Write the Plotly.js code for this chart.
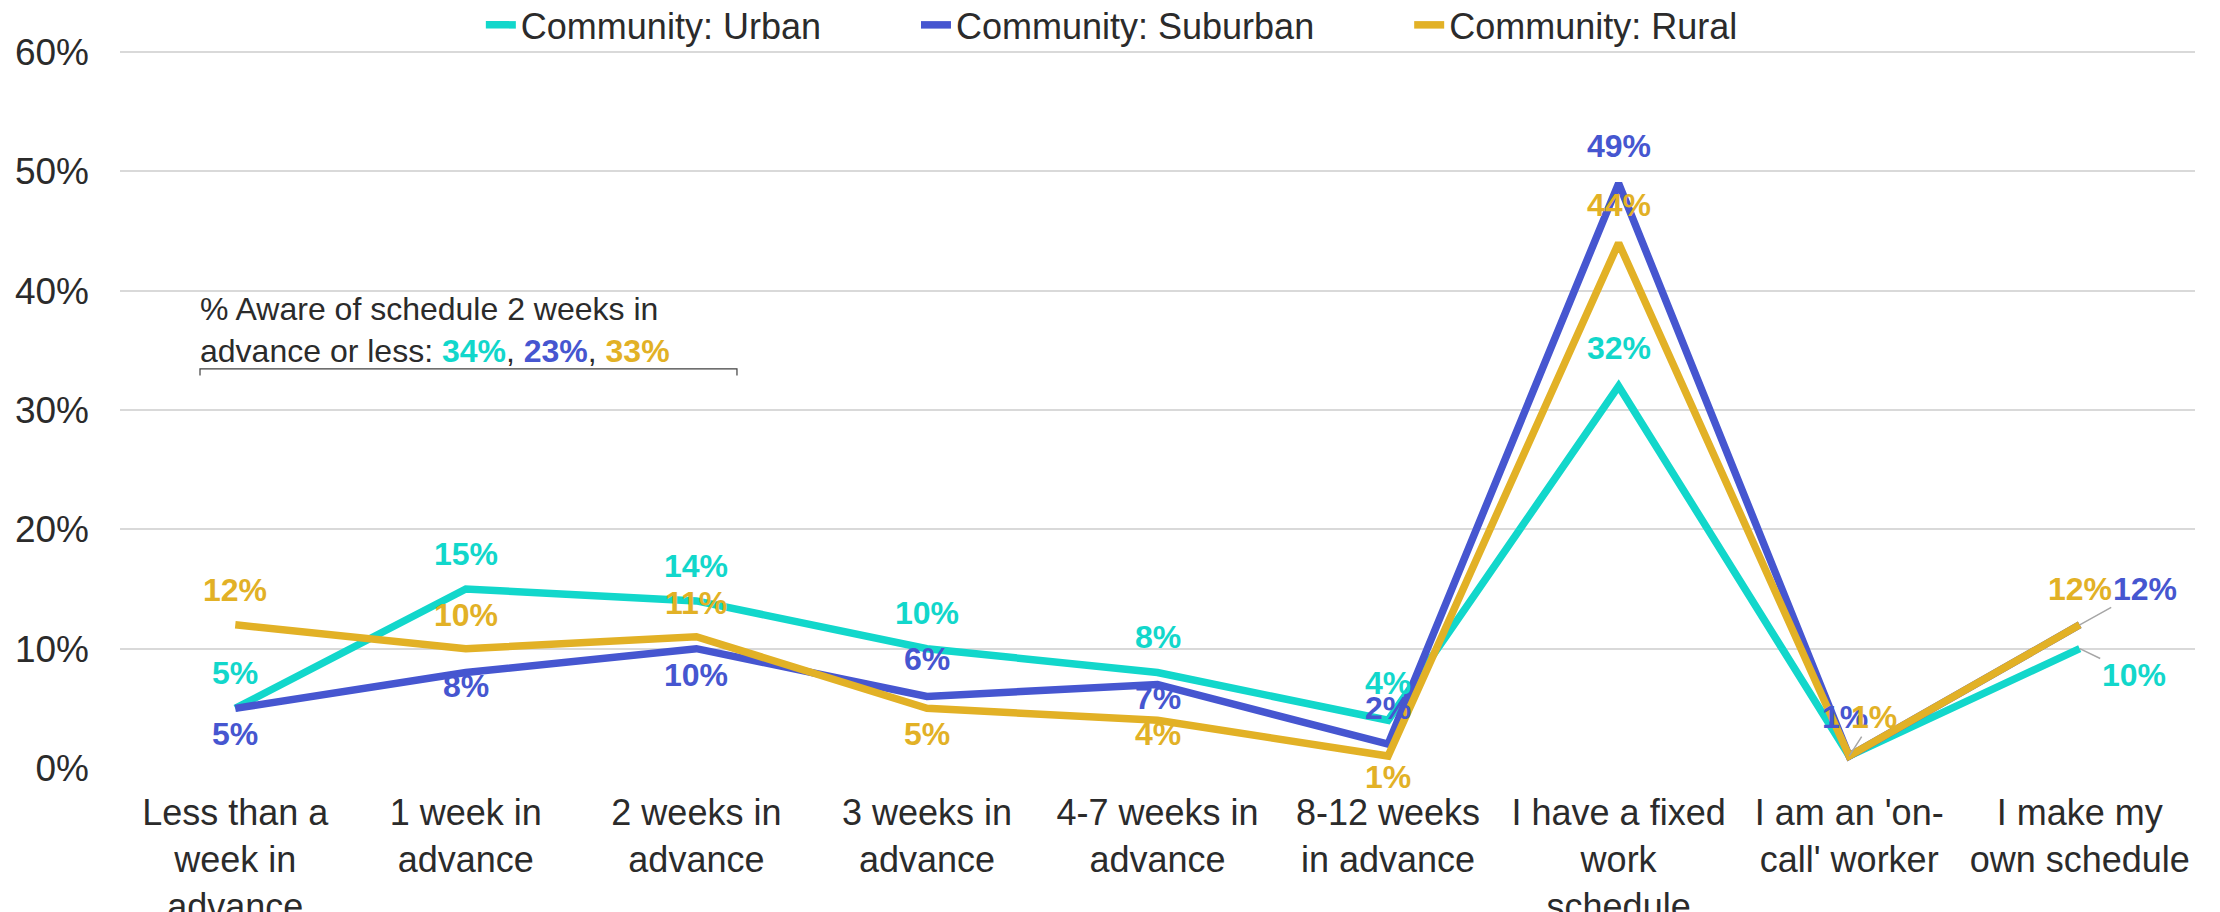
<!DOCTYPE html>
<html>
<head>
<meta charset="utf-8">
<script src="https://cdn.plot.ly/plotly-3.0.1.min.js"></script>
<style>
  html, body { margin: 0; padding: 0; background: #ffffff; }
  #chart { width: 2220px; height: 912px; }
</style>
</head>
<body>
<div id="chart"></div>
<script>
// ---- Data ----
const categories = [
  "Less than a week in advance",
  "1 week in advance",
  "2 weeks in advance",
  "3 weeks in advance",
  "4-7 weeks in advance",
  "8-12 weeks in advance",
  "I have a fixed work schedule",
  "I am an 'on-call' worker",
  "I make my own schedule"
];
const tickLabels = [
  "Less than a<br>week in<br>advance",
  "1 week in<br>advance",
  "2 weeks in<br>advance",
  "3 weeks in<br>advance",
  "4-7 weeks in<br>advance",
  "8-12 weeks<br>in advance",
  "I have a fixed<br>work<br>schedule",
  "I am an 'on-<br>call' worker",
  "I make my<br>own schedule"
];
const seriesNames = ["Community: Urban", "Community: Suburban", "Community: Rural"];
const urban    = [0.05, 0.15, 0.14, 0.10, 0.08, 0.04, 0.32, 0.01, 0.10];
const suburban = [0.05, 0.08, 0.10, 0.06, 0.07, 0.02, 0.49, 0.01, 0.12];
const rural    = [0.12, 0.10, 0.11, 0.05, 0.04, 0.01, 0.44, 0.01, 0.12];
const yTicks = [0, 0.1, 0.2, 0.3, 0.4, 0.5, 0.6];
const awareTwoWeeksOrLess = ["34%", "23%", "33%"];
const awareText = "% Aware of schedule 2 weeks in<br>advance or less: ";

// ---- Styles ----
const colors = ["#12D7CB", "#4656D0", "#E2B126"];
const FONT = "Liberation Sans, Arial, sans-serif";
const TEXT = "#2b2b2b";
const legendPad = "\u00A0".repeat(9);

// label offsets per series per point: [dx, dy(up positive)], null = hidden, third item = leader line
const labelOffsets = [
  [[0,35],[0,35],[0,35],[0,36],[0,36],[0,37],[0,38],null,[54,-26,true]],
  [[0,-26],[0,-13],[0,-26],[0,37],[0,-14],[0,36],[0,37],[-4,39],[65,36,true]],
  [[0,35],[0,34],[0,34],[0,-26],[0,-14],[0,-21],[0,38],[25,39,true],[0,36]]
];

const allSeries = [urban, suburban, rural];

const traces = allSeries.map((vals, s) => ({
  type: "scatter",
  mode: "lines",
  x: categories,
  y: vals,
  name: seriesNames[s] + (s < allSeries.length - 1 ? legendPad : ""),
  line: { color: colors[s], width: 7.5 },
  hovertemplate: "%{x}: %{y:.0%}<extra>" + seriesNames[s] + "</extra>"
}));

const annotations = [];
allSeries.forEach((vals, s) => {
  vals.forEach((v, i) => {
    const off = labelOffsets[s][i];
    if (!off) return;
    const txt = Math.round(v * 100) + "%";
    const base = {
      x: categories[i], y: v, xref: "x", yref: "y",
      text: "<b>" + txt + "</b>",
      font: { family: FONT, size: 32, color: colors[s] }
    };
    if (off[2]) {
      annotations.push(Object.assign(base, {
        showarrow: true, arrowhead: 0, arrowwidth: 1.5, arrowcolor: "#a6a6a6",
        ax: off[0], ay: -off[1], standoff: 0, xanchor: "center", yanchor: "middle"
      }));
    } else {
      annotations.push(Object.assign(base, {
        showarrow: false, xshift: off[0], yshift: off[1],
        xanchor: "center", yanchor: "middle"
      }));
    }
  });
});

// bracket note
const noteValues = awareTwoWeeksOrLess.map((t, s) =>
  '<span style="color:' + colors[s] + '"><b>' + t + '</b></span>').join(", ");
annotations.push({
  x: -0.16, y: 0.367, xref: "x", yref: "y",
  xanchor: "left", yanchor: "middle", align: "left",
  showarrow: false,
  text: awareText + noteValues,
  font: { family: FONT, size: 32, color: TEXT }
});

const shapes = [{
  type: "path", xref: "x", yref: "y",
  path: "M -0.153 0.329 L -0.153 0.3345 L 2.176 0.3345 L 2.176 0.329",
  line: { color: "#404040", width: 1.2 }
}];

const layout = {
  width: 2220, height: 912,
  margin: { l: 120, r: 25, t: 48, b: 144, autoexpand: false },
  paper_bgcolor: "#ffffff", plot_bgcolor: "#ffffff",
  font: { family: FONT, color: TEXT, size: 36 },
  showlegend: true,
  legend: {
    orientation: "h", x: 0.478, xanchor: "center", y: 1.032, yanchor: "middle",
    font: { family: FONT, size: 36, color: TEXT },
    bgcolor: "rgba(0,0,0,0)", itemwidth: 30
  },
  xaxis: {
    type: "category",
    range: [-0.5, 8.5],
    tickmode: "array", tickvals: categories, ticktext: tickLabels,
    tickangle: 0, showgrid: false, zeroline: false, showline: false,
    ticks: "", ticklabelstandoff: 20,
    tickfont: { family: FONT, size: 36, color: TEXT }
  },
  yaxis: {
    range: [0, 0.6034], tickvals: yTicks, tickformat: ".0%",
    showgrid: true, gridcolor: "#d9d9d9", gridwidth: 1.5,
    zeroline: false, showline: false, ticks: "", ticklabelstandoff: 30,
    tickfont: { family: FONT, size: 37, color: TEXT }
  },
  annotations: annotations,
  shapes: shapes
};

Plotly.newPlot("chart", traces, layout, { displayModeBar: false, responsive: false });
</script>
</body>
</html>
